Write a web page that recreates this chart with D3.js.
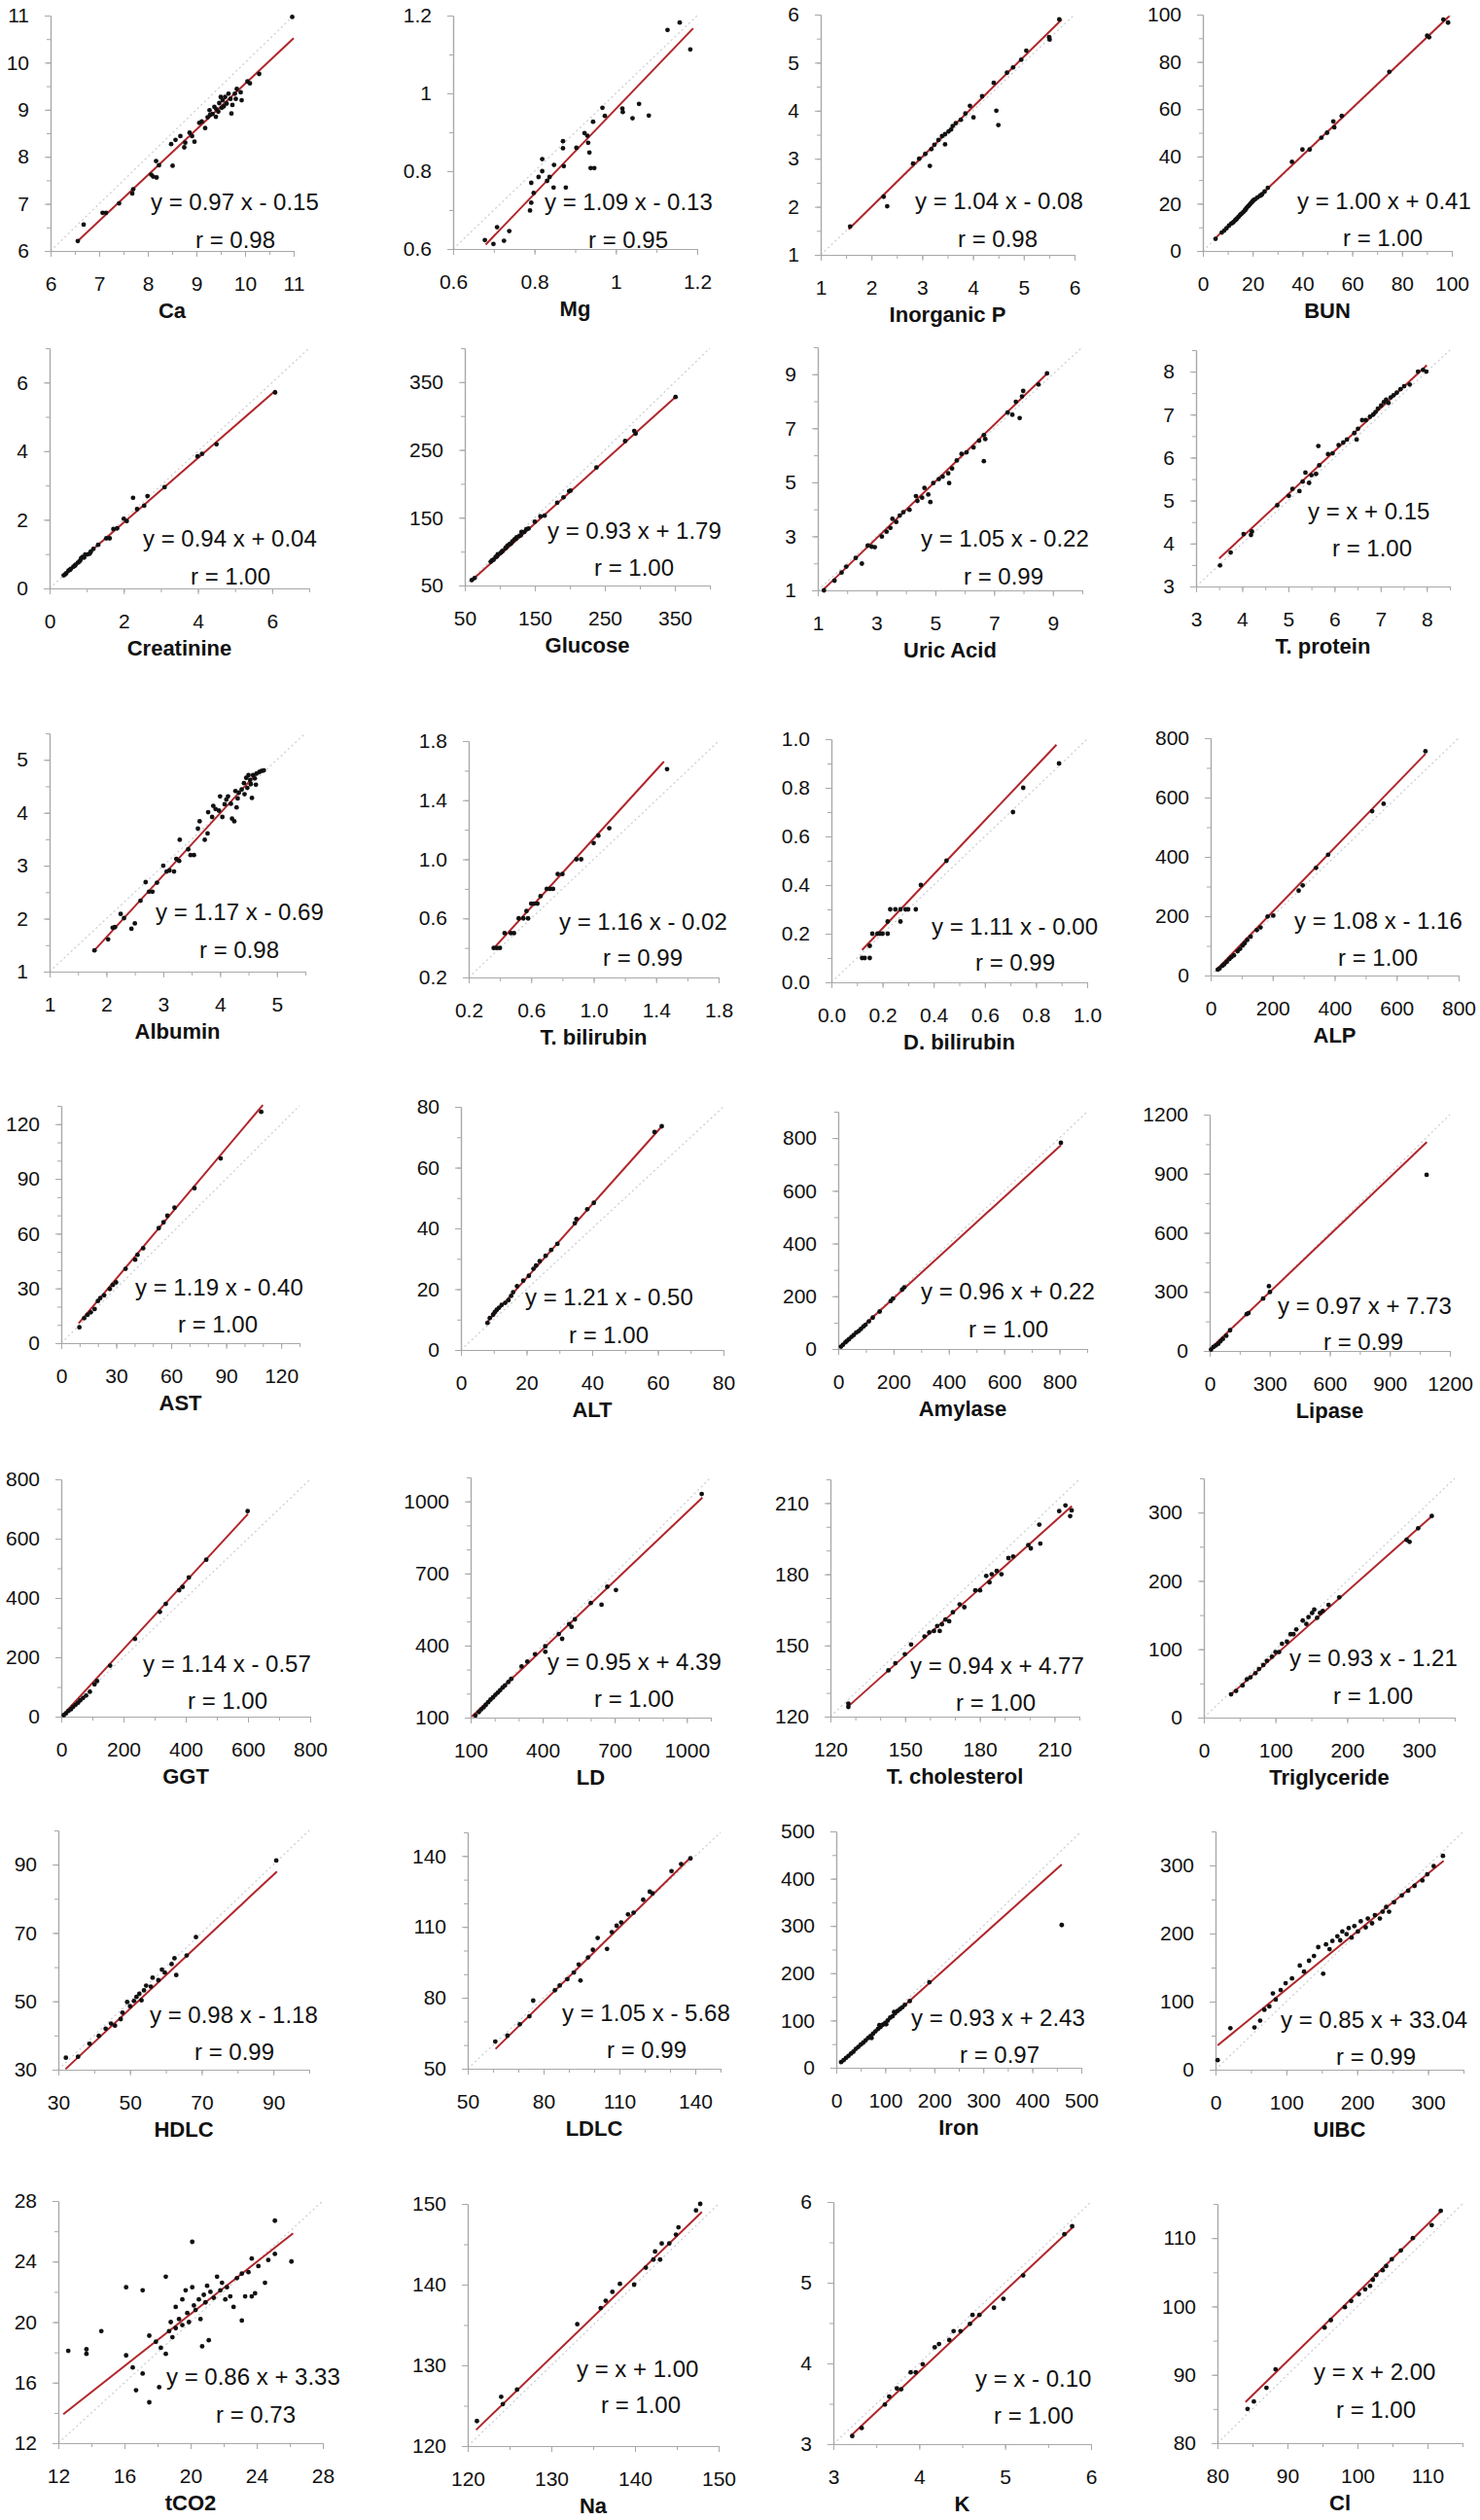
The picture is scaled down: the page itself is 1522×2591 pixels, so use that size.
<!DOCTYPE html>
<html><head><meta charset="utf-8">
<script src="https://cdn.jsdelivr.net/npm/d3@7"></script>
<style>body{margin:0;background:#fff}svg{display:block}</style>
</head><body>
<svg id="c" width="1522" height="2591"></svg>
<script>
// ---------------- DATA ----------------
const titles = ["Ca","Mg","Inorganic P","BUN","Creatinine","Glucose","Uric Acid","T. protein",
  "Albumin","T. bilirubin","D. bilirubin","ALP","AST","ALT","Amylase","Lipase",
  "GGT","LD","T. cholesterol","Triglyceride","HDLC","LDLC","Iron","UIBC","tCO2","Na","K","Cl"];

const domains = [[6,11],[0.6,1.2],[1,6],[0,100],[0,7],[50,400],[1,10],[3,8.5],
  [1,5.5],[0.2,1.8],[0,1],[0,800],[0,130],[0,80],[0,900],[0,1200],
  [0,800],[100,1100],[120,220],[0,350],[30,100],[50,150],[0,500],[0,350],[12,28],[120,150],[3,6],[80,115]];

const tickLabels = [
  ["6","7","8","9","10","11"],["0.6","0.8","1","1.2"],["1","2","3","4","5","6"],["0","20","40","60","80","100"],
  ["0","2","4","6"],["50","150","250","350"],["1","3","5","7","9"],["3","4","5","6","7","8"],
  ["1","2","3","4","5"],["0.2","0.6","1.0","1.4","1.8"],["0.0","0.2","0.4","0.6","0.8","1.0"],["0","200","400","600","800"],
  ["0","30","60","90","120"],["0","20","40","60","80"],["0","200","400","600","800"],["0","300","600","900","1200"],
  ["0","200","400","600","800"],["100","400","700","1000"],["120","150","180","210"],["0","100","200","300"],
  ["30","50","70","90"],["50","80","110","140"],["0","100","200","300","400","500"],["0","100","200","300"],
  ["12","16","20","24","28"],["120","130","140","150"],["3","4","5","6"],["80","90","100","110"]];

const minorSteps = [0.5,0.1,0.5,10,1,50,1,0.5,0.5,0.2,0.1,100,10,10,100,150,100,100,10,50,10,10,50,50,2,5,0.5,5];

const slopes = [0.97,1.09,1.04,1.00,0.94,0.93,1.05,1,1.17,1.16,1.11,1.08,1.19,1.21,0.96,0.97,1.14,0.95,0.94,0.93,0.98,1.05,0.93,0.85,0.86,1,1,1];
const intercepts = [-0.15,-0.13,-0.08,0.41,0.04,1.79,-0.22,0.15,-0.69,-0.02,0,-1.16,-0.40,-0.50,0.22,7.73,-0.57,4.39,4.77,-1.21,-1.18,-5.68,2.43,33.04,3.33,1.00,-0.10,2.00];
const fitRanges = [[6.55,11],[0.68,1.19],[1.55,5.75],[5,99],[0.35,6.1],[58,352],[1.15,8.85],[3.5,8.0],
  [1.8,4.65],[0.36,1.45],[0.12,0.88],[20,693],[9.5,110],[8,61.5],[10,805],[5,1085],
  [5,600],[105,1065],[127,217],[37,318],[32,91],[61,138],[8,460],[3,322],[12.3,26.2],[121,148],[3.2,5.8],[84,112]];
const eqLabels = ["y = 0.97 x - 0.15","y = 1.09 x - 0.13","y = 1.04 x - 0.08","y = 1.00 x + 0.41",
  "y = 0.94 x + 0.04","y = 0.93 x + 1.79","y = 1.05 x - 0.22","y = x + 0.15",
  "y = 1.17 x - 0.69","y = 1.16 x - 0.02","y = 1.11 x - 0.00","y = 1.08 x - 1.16",
  "y = 1.19 x - 0.40","y = 1.21 x - 0.50","y = 0.96 x + 0.22","y = 0.97 x + 7.73",
  "y = 1.14 x - 0.57","y = 0.95 x + 4.39","y = 0.94 x + 4.77","y = 0.93 x - 1.21",
  "y = 0.98 x - 1.18","y = 1.05 x - 5.68","y = 0.93 x + 2.43","y = 0.85 x + 33.04",
  "y = 0.86 x + 3.33","y = x + 1.00","y = x - 0.10","y = x + 2.00"];
const rValues = ["0.98","0.95","0.98","1.00","1.00","1.00","0.99","1.00","0.98","0.99","0.99","1.00",
  "1.00","1.00","1.00","0.99","1.00","1.00","1.00","1.00","0.99","0.99","0.97","0.99","0.73","1.00","1.00","1.00"];

const caPoints = [[6.56,6.21],[6.68,6.56],[7.07,6.81],[7.14,6.81],[7.41,7.01],[7.68,7.22],[7.70,7.31],[8.07,7.62],[8.11,7.58],[8.18,7.56],[8.17,7.91],[8.23,7.82],[8.51,7.81],[8.48,8.27],[8.57,8.36],[8.67,8.44],[8.75,8.20],[8.77,8.30],[8.86,8.51],[8.91,8.44],[8.96,8.32],[9.06,8.72],[9.11,8.75],[9.18,8.61],[9.23,8.84],[9.27,8.99],[9.28,8.89],[9.33,8.91],[9.37,9.06],[9.40,8.85],[9.41,9.01],[9.45,8.96],[9.47,9.14],[9.50,9.27],[9.52,9.04],[9.54,9.20],[9.56,9.07],[9.59,9.27],[9.62,9.13],[9.66,9.34],[9.70,9.23],[9.72,8.92],[9.74,9.10],[9.79,9.34],[9.81,9.23],[9.83,9.44],[9.91,9.37],[9.93,9.20],[10.05,9.60],[10.10,9.56],[10.29,9.76],[10.97,10.97]];
const mgPoints = [[0.678,0.623],[0.699,0.613],[0.708,0.656],[0.725,0.621],[0.738,0.646],[0.789,0.699],[0.792,0.719],[0.798,0.744],[0.792,0.770],[0.810,0.785],[0.819,0.800],[0.819,0.831],[0.831,0.775],[0.837,0.785],[0.847,0.758],[0.848,0.816],[0.870,0.877],[0.870,0.859],[0.872,0.813],[0.877,0.758],[0.903,0.860],[0.923,0.898],[0.930,0.891],[0.932,0.873],[0.935,0.848],[0.938,0.808],[0.947,0.808],[0.944,0.927],[0.967,0.963],[0.973,0.942],[1.016,0.961],[1.017,0.952],[1.041,0.936],[1.057,0.973],[1.081,0.943],[1.127,1.163],[1.157,1.182],[1.183,1.113]];
const ipPoints = [[1.58,1.59],[2.24,2.21],[2.31,2.01],[2.82,2.90],[2.94,3.00],[3.06,3.10],[3.15,2.85],[3.18,3.20],[3.24,3.29],[3.32,3.39],[3.39,3.47],[3.45,3.30],[3.45,3.51],[3.52,3.57],[3.57,3.61],[3.60,3.68],[3.66,3.74],[3.76,3.81],[3.85,3.94],[3.94,4.10],[4.01,3.86],[4.18,4.30],[4.41,4.58],[4.46,4.00],[4.50,3.70],[4.67,4.79],[4.79,4.90],[4.95,5.06],[5.05,5.25],[5.50,5.53],[5.51,5.48],[5.70,5.90]];
const bunPoints = [[5.1,5.1],[7.6,7.8],[8.6,8.6],[9.5,9.6],[10.5,10.7],[11.4,11.6],[12.0,11.9],[12.4,12.3],[13.0,13.0],[13.3,13.3],[13.7,13.7],[14.3,14.4],[14.9,15.1],[15.2,15.5],[15.6,15.8],[16.2,16.4],[16.8,17.1],[17.1,17.4],[17.5,18.1],[18.1,18.8],[18.5,19.2],[19.0,19.9],[19.6,20.5],[20.0,21.0],[20.4,21.5],[21.0,21.9],[21.9,22.6],[22.9,23.3],[23.4,23.6],[23.8,24.0],[24.8,25.1],[26.1,26.7],[35.8,37.7],[40.0,42.9],[42.9,42.9],[47.6,47.9],[49.9,50.0],[52.4,54.8],[52.8,52.3],[55.8,57.1],[74.9,75.8],[90.1,91.1],[90.9,90.4],[96.6,97.9],[98.5,96.6]];
const crPoints = [[0.38,0.38],[0.42,0.41],[0.45,0.44],[0.51,0.52],[0.55,0.54],[0.57,0.57],[0.64,0.63],[0.68,0.66],[0.70,0.69],[0.76,0.75],[0.80,0.78],[0.83,0.82],[0.85,0.88],[0.89,0.92],[0.93,0.90],[0.96,0.99],[1.02,0.99],[1.08,1.01],[1.11,1.07],[1.18,1.15],[1.31,1.27],[1.53,1.46],[1.62,1.46],[1.72,1.73],[1.82,1.75],[2.00,2.03],[2.08,1.96],[2.25,2.64],[2.36,2.31],[2.55,2.41],[2.64,2.69],[3.10,2.95],[3.99,3.85],[4.11,3.92],[4.50,4.20],[6.08,5.71]];
const gluPoints = [[60,58],[64,61],[87,85],[89,87],[91,88],[94,92],[96,93],[97,96],[101,98],[103,100],[104,101],[108,105],[109,106],[111,109],[114,111],[116,112],[118,115],[121,118],[123,119],[124,121],[128,123],[130,124],[131,129],[135,129],[138,133],[141,134],[150,144],[158,152],[164,153],[182,172],[191,180],[199,189],[201,190],[238,224],[279,263],[292,278],[294,274],[351,328]];
const uaPoints = [[1.21,1.00],[1.57,1.36],[1.81,1.66],[1.97,1.88],[2.29,2.20],[2.50,1.99],[2.70,2.66],[2.83,2.62],[2.94,2.60],[3.18,2.99],[3.34,3.17],[3.47,3.31],[3.54,3.65],[3.67,3.53],[3.79,3.77],[3.91,3.89],[4.12,3.98],[4.34,4.49],[4.39,4.31],[4.55,4.43],[4.63,4.79],[4.76,4.55],[4.83,4.27],[4.93,4.97],[5.12,5.12],[5.25,5.21],[5.44,5.33],[5.47,4.97],[5.57,5.51],[5.73,5.81],[5.89,6.05],[6.06,6.11],[6.30,6.29],[6.49,6.54],[6.65,6.75],[6.65,5.78],[6.70,6.60],[7.46,7.58],[7.62,7.50],[7.74,7.98],[7.87,7.38],[7.95,8.18],[7.99,8.38],[8.51,8.62],[8.80,9.03]];
const tpPoints = [[3.52,3.49],[3.75,3.79],[4.03,4.22],[4.19,4.20],[4.21,4.28],[4.76,4.89],[5.01,5.11],[5.09,5.27],[5.24,5.22],[5.31,5.44],[5.37,5.65],[5.45,5.41],[5.50,5.59],[5.60,5.62],[5.65,6.27],[5.67,5.82],[5.86,6.08],[5.96,6.10],[6.09,6.29],[6.19,6.35],[6.27,6.42],[6.43,6.57],[6.48,6.42],[6.51,6.67],[6.60,6.87],[6.68,6.87],[6.77,6.95],[6.84,7.00],[6.89,7.06],[6.94,7.14],[7.01,7.21],[7.07,7.29],[7.12,7.35],[7.17,7.27],[7.22,7.40],[7.28,7.45],[7.35,7.51],[7.43,7.59],[7.51,7.66],[7.63,7.70],[7.81,8.00],[7.92,8.04],[7.99,8.00]];
const albPoints = [[1.79,1.40],[2.03,1.61],[2.11,1.83],[2.15,1.84],[2.25,2.09],[2.31,2.01],[2.44,1.81],[2.50,1.91],[2.60,2.34],[2.69,2.69],[2.75,2.51],[2.81,2.51],[2.89,2.68],[3.00,3.00],[3.06,2.89],[3.11,2.91],[3.19,2.89],[3.23,3.13],[3.28,3.09],[3.29,3.49],[3.44,3.31],[3.48,3.20],[3.54,3.20],[3.61,3.70],[3.64,3.84],[3.73,3.49],[3.78,3.61],[3.79,4.01],[3.86,3.92],[3.88,4.13],[3.92,4.07],[3.98,4.04],[4.00,4.31],[4.04,3.92],[4.08,4.16],[4.11,4.25],[4.14,4.31],[4.19,4.17],[4.21,3.89],[4.25,3.84],[4.27,4.41],[4.29,4.10],[4.31,4.27],[4.33,4.38],[4.38,4.44],[4.42,4.56],[4.43,4.35],[4.46,4.66],[4.48,4.47],[4.50,4.71],[4.53,4.62],[4.54,4.54],[4.56,4.28],[4.58,4.71],[4.61,4.65],[4.63,4.53],[4.64,4.74],[4.69,4.77],[4.73,4.79],[4.77,4.80]];
const tbPoints = [[0.36,0.40],[0.38,0.40],[0.40,0.40],[0.43,0.50],[0.47,0.50],[0.49,0.50],[0.52,0.60],[0.55,0.60],[0.58,0.60],[0.57,0.65],[0.60,0.70],[0.62,0.70],[0.64,0.70],[0.66,0.75],[0.70,0.80],[0.72,0.80],[0.74,0.80],[0.77,0.90],[0.80,0.90],[0.89,1.00],[0.92,1.00],[1.00,1.11],[1.03,1.16],[1.10,1.21],[1.47,1.61]];
const dbPoints = [[0.12,0.10],[0.13,0.10],[0.15,0.10],[0.15,0.15],[0.16,0.20],[0.18,0.20],[0.19,0.20],[0.20,0.20],[0.22,0.20],[0.22,0.25],[0.23,0.30],[0.25,0.30],[0.27,0.30],[0.27,0.25],[0.29,0.30],[0.30,0.30],[0.33,0.30],[0.35,0.40],[0.45,0.50],[0.71,0.70],[0.75,0.80],[0.89,0.90]];
const alpPoints = [[23,20],[29,24],[38,33],[44,38],[52,46],[60,55],[67,62],[75,68],[87,82],[95,90],[103,101],[110,109],[118,120],[129,131],[149,153],[161,162],[184,199],[202,202],[284,286],[297,304],[340,363],[379,407],[521,554],[558,579],[693,756]];
const astPoints = [[9.9,8.7],[12.5,13.7],[14.3,15.5],[16.1,16.9],[18.2,18.7],[20.0,23.1],[21.3,24.7],[23.4,26.2],[26.5,29.7],[28.1,31.9],[29.9,33.3],[35.1,40.7],[40.3,45.7],[41.6,48.4],[44.7,52.0],[53.2,63.0],[55.8,66.2],[57.9,69.8],[61.8,74.2],[72.7,84.9],[87.0,101.2],[109.1,126.7]];
const altPoints = [[8.1,8.9],[8.8,10.5],[9.8,11.6],[10.3,12.4],[10.9,13.2],[11.6,13.9],[12.4,14.8],[13.5,15.5],[14.5,16.4],[15.3,17.8],[15.9,19.0],[17.1,21.0],[19.0,22.8],[20.7,24.4],[22.1,26.7],[22.9,27.8],[24.0,29.2],[25.8,31.0],[27.5,32.9],[29.4,34.9],[34.7,41.7],[35.2,43.1],[38.5,46.3],[40.5,48.4],[59.0,71.7],[61.2,73.6]];
const amyPoints = [[10,9],[17,16],[26,25],[32,31],[39,37],[48,46],[56,53],[65,62],[74,68],[82,76],[91,85],[99,92],[111,105],[125,119],[150,142],[190,182],[198,191],[231,225],[239,234],[805,782]];
const lipPoints = [[7,7],[19,20],[31,28],[43,36],[54,49],[66,61],[83,77],[102,105],[185,187],[194,192],[267,266],[296,329],[301,299],[1084,894]];
const ggtPoints = [[8,5],[15,11],[23,19],[31,25],[38,33],[46,40],[54,47],[61,55],[70,63],[80,71],[92,84],[107,109],[115,120],[157,172],[237,262],[317,353],[336,380],[379,426],[390,437],[410,469],[466,529],[599,693]];
const ldPoints = [[120,109],[134,123],[144,134],[154,143],[163,153],[173,164],[183,175],[193,184],[203,195],[213,204],[223,214],[233,225],[243,234],[257,248],[269,261],[312,313],[336,333],[368,364],[411,397],[411,374],[467,448],[481,428],[510,489],[520,478],[534,509],[600,577],[645,570],[669,645],[705,631],[1062,1031]];
const tcPoints = [[127.2,124.1],[127.2,125.5],[143.3,139.5],[146.1,142.5],[149.9,146.3],[152.4,150.4],[157.8,153.8],[159.7,155.5],[161.6,156.1],[162.9,158.2],[163.9,156.1],[164.8,158.9],[166.2,160.9],[167.7,160.2],[169.2,164.0],[171.9,167.3],[173.8,166.1],[178.2,173.2],[180.1,173.2],[182.6,179.3],[183.9,176.6],[184.8,180.0],[186.8,181.4],[188.7,180.0],[191.5,186.8],[193.4,187.5],[199.5,192.3],[200.5,190.9],[203.9,200.9],[204.3,192.9],[211.9,206.6],[214.4,209.0],[216.3,204.5],[216.9,206.9]];
const tgPoints = [[38,34],[45,39],[54,47],[60,56],[65,59],[72,65],[77,71],[83,77],[88,83],[95,89],[100,96],[105,96],[109,108],[116,111],[121,122],[125,122],[129,129],[138,142],[143,137],[146,147],[151,153],[154,158],[158,146],[162,153],[166,156],[174,165],[189,176],[283,260],[287,257],[299,277],[318,295]];
const hdlcPoints = [[32.1,33.5],[35.5,33.8],[38.7,37.6],[41.3,39.9],[43.2,42.0],[44.7,43.5],[45.8,42.9],[47.4,44.8],[47.9,46.7],[49.2,49.8],[50.0,48.6],[51.1,50.1],[51.8,51.3],[52.6,52.2],[53.2,50.3],[53.9,53.2],[54.5,54.6],[55.8,54.3],[56.3,56.9],[57.9,56.2],[58.9,59.3],[59.7,58.4],[61.6,60.9],[62.4,62.6],[62.9,57.7],[65.8,63.4],[68.4,68.8],[90.8,91.2]];
const ldlcPoints = [[60.9,61.5],[65.7,64.0],[70.6,68.8],[74.4,72.2],[75.9,78.8],[84.5,83.2],[86.4,85.2],[89.4,87.9],[92.0,90.7],[93.9,94.1],[94.6,87.3],[97.6,97.1],[99.5,100.3],[101.4,105.3],[105.1,100.7],[107.0,107.8],[108.9,110.5],[110.7,111.9],[113.4,115.3],[115.6,116.0],[119.4,121.5],[122.0,124.9],[123.1,124.2],[130.6,133.6],[134.4,136.6],[138.1,139.0]];
const ironPoints = [[10,12],[15,16],[20,21],[25,25],[30,30],[35,34],[40,40],[45,44],[50,49],[55,53],[60,58],[65,63],[70,67],[72,63],[75,72],[80,77],[85,82],[88,90],[90,86],[95,91],[100,95],[102,92],[105,100],[110,106],[115,109],[118,118],[120,115],[125,120],[130,124],[135,128],[140,133],[150,141],[190,181],[460,302]];
const uibcPoints = [[3,14],[21,61],[55,62],[63,72],[69,88],[76,93],[81,112],[85,103],[92,117],[99,127],[108,134],[119,153],[125,144],[132,160],[139,167],[145,180],[152,141],[156,184],[161,177],[165,189],[172,196],[176,190],[179,203],[185,199],[188,208],[192,194],[196,211],[201,203],[205,218],[212,209],[215,222],[221,215],[225,227],[232,222],[236,232],[241,239],[245,232],[252,246],[263,256],[272,263],[281,270],[292,278],[299,287],[308,299],[321,314]];
const tco2Points = [[12.6,18.1],[13.7,18.2],[13.7,17.9],[14.6,19.4],[16.1,17.8],[16.1,22.3],[16.5,17.0],[16.7,15.5],[17.1,22.1],[17.1,16.6],[17.5,19.1],[17.5,14.7],[17.9,18.7],[18.1,15.7],[18.2,18.3],[18.5,17.9],[18.5,23.0],[18.7,19.4],[18.8,20.0],[18.9,19.0],[19.1,21.0],[19.1,19.6],[19.3,20.2],[19.5,21.5],[19.5,19.8],[19.7,22.1],[19.8,20.6],[19.9,20.0],[20.1,22.3],[20.1,25.3],[20.2,21.1],[20.3,20.8],[20.5,21.5],[20.6,20.2],[20.7,18.4],[20.8,21.8],[20.9,21.3],[21.0,22.4],[21.1,18.8],[21.2,22.0],[21.4,21.6],[21.6,23.0],[21.8,22.1],[21.9,22.6],[22.1,21.5],[22.2,22.3],[22.4,21.7],[22.6,21.0],[22.8,22.9],[23.1,20.1],[23.1,23.2],[23.3,21.7],[23.5,23.3],[23.7,21.7],[23.7,24.2],[23.9,21.9],[24.1,23.7],[24.5,22.6],[24.7,24.1],[25.1,24.5],[25.1,26.7],[26.1,24.0]];
const naPoints = [[121.1,123.1],[124.0,126.1],[124.2,125.2],[125.9,127.0],[133.1,135.1],[135.9,137.1],[136.5,138.0],[137.3,139.1],[138.2,140.1],[139.9,140.0],[141.3,142.1],[142.2,143.1],[142.4,144.1],[143.0,143.1],[143.2,145.1],[144.1,145.1],[144.9,146.2],[145.2,147.1],[147.3,149.2],[147.8,150.0]];
const kPoints = [[3.22,3.10],[3.33,3.20],[3.60,3.49],[3.65,3.59],[3.74,3.69],[3.79,3.68],[3.90,3.89],[3.96,3.89],[4.04,3.99],[4.18,4.20],[4.23,4.24],[4.35,4.29],[4.40,4.40],[4.48,4.40],[4.59,4.49],[4.62,4.60],[4.70,4.60],[4.87,4.69],[4.98,4.80],[5.21,5.09],[5.69,5.60],[5.78,5.70]];
const clPoints = [[84.3,85.0],[85.2,86.1],[87.0,88.1],[88.3,90.8],[95.3,96.9],[96.2,98.0],[98.2,99.9],[99.1,100.8],[100.2,101.8],[101.1,102.5],[101.8,103.0],[102.2,103.9],[102.7,104.6],[103.6,105.3],[104.1,105.9],[104.9,106.9],[106.2,108.2],[107.9,110.0],[110.6,111.9],[111.9,114.0]];

const pointSets = [caPoints,mgPoints,ipPoints,bunPoints,crPoints,gluPoints,uaPoints,tpPoints,
  albPoints,tbPoints,dbPoints,alpPoints,astPoints,altPoints,amyPoints,lipPoints,
  ggtPoints,ldPoints,tcPoints,tgPoints,hdlcPoints,ldlcPoints,ironPoints,uibcPoints,
  tco2Points,naPoints,kPoints,clPoints];

// ---------------- LAYOUT (pixels) ----------------
// plot box per panel: [left, top, right, bottom]
const plotBoxes = [[52,16,302,258],[466,16,717,256],[844,15,1105,262],[1237,15,1493,258],
  [51,358,318,605],[478,358,730,602],[841,357,1113,607],[1230,360,1491,603],
  [51,754,314,999],[482,762,739,1005],[855,760,1118,1010],[1245,759,1500,1003],
  [63,1137,308,1381],[474,1138,744,1388],[862,1143,1118,1387],[1244,1146,1491,1389],
  [63,1521,319,1765],[484,1519,731,1766],[854,1521,1110,1765],[1238,1520,1496,1766],
  [60,1882,318,2128],[481,1884,741,2127],[860,1883,1112,2126],[1250,1883,1505,2128],
  [60,2263,332,2512],[481,2266,739,2515],[857,2264,1122,2513],[1252,2266,1504,2512]];
// equation / r text offsets from (left, bottom)
const eqOffsets = [[103,-51],[94,-49],[97,-56],[97,-52],[96,-52],[85,-57],[106,-54],[115,-78],
  [109,-62],[93,-58],[103,-58],[86,-57],[76,-58],[66,-55],[85,-60],[70,-47],
  [84,-55],[79,-58],[82,-53],[88,-62],[94,-57],[97,-58],[77,-52],[67,-52],
  [111,-69],[112,-80],[146,-68],[99,-74]];
const rOffsets = [[149,-12],[139,-10],[141,-17],[144,-14],[145,-13],[133,-19],[150,-15],[140,-40],
  [154,-23],[138,-21],[148,-21],[131,-19],[120,-20],[111,-16],[134,-21],[117,-10],
  [130,-17],[127,-20],[129,-15],[133,-23],[140,-19],[143,-20],[127,-14],[124,-14],
  [162,-30],[137,-43],[165,-30],[122,-35]];

const FONT = "'Liberation Sans', Arial, sans-serif";
const AXIS_COLOR = "#a8a8a8";
const FIT_COLOR = "#b0262b";

// ---------------- DRAW ----------------
const svg = d3.select("#c");
svg.append("rect").attr("width",1522).attr("height",2591).attr("fill","#fff");

titles.forEach((title, i) => {
  const [L, T, R, B] = plotBoxes[i];
  const [d0, d1] = domains[i];
  const x = d3.scaleLinear().domain([d0, d1]).range([L, R]);
  const y = d3.scaleLinear().domain([d0, d1]).range([B, T]);
  const g = svg.append("g").attr("class", "panel");

  const step = minorSteps[i];
  const minorVals = d3.range(0, Math.round((d1 - d0) / step) + 1).map(k => +(d0 + k * step).toFixed(6));
  const majorVals = tickLabels[i].map(Number);

  // identity line (dotted)
  g.append("line")
    .attr("x1", x(d0)).attr("y1", y(d0)).attr("x2", x(d1)).attr("y2", y(d1))
    .attr("stroke", "#c8ccd0").attr("stroke-width", 1.2).attr("stroke-dasharray", "2,3");

  // minor ticks
  const xMinor = d3.axisBottom(x).tickValues(minorVals).tickSize(4).tickSizeOuter(0).tickFormat("");
  const yMinor = d3.axisLeft(y).tickValues(minorVals).tickSize(4).tickSizeOuter(0).tickFormat("");
  // major axes
  const xAxis = d3.axisBottom(x).tickValues(majorVals).tickSize(6).tickSizeOuter(0)
    .tickPadding(20).tickFormat((d, k) => tickLabels[i][k]);
  const yAxis = d3.axisLeft(y).tickValues(majorVals).tickSize(6).tickSizeOuter(0)
    .tickPadding(16).tickFormat((d, k) => tickLabels[i][k]);

  [[xMinor, `translate(0,${B})`], [yMinor, `translate(${L},0)`],
   [xAxis, `translate(0,${B})`], [yAxis, `translate(${L},0)`]].forEach(([ax, tr]) => {
    const a = g.append("g").attr("transform", tr).call(ax);
    a.select(".domain").attr("stroke", AXIS_COLOR).attr("stroke-width", 1.2);
    a.selectAll(".tick line").attr("stroke", AXIS_COLOR).attr("stroke-width", 1);
    a.selectAll(".tick text").attr("fill", "#111").style("font-family", FONT).style("font-size", "21px");
  });

  // regression line
  const [f0, f1] = fitRanges[i];
  const fitLine = [f0, f1].map(v => [v, slopes[i] * v + intercepts[i]]);
  g.append("path")
    .attr("d", d3.line().x(d => x(d[0])).y(d => y(d[1]))(fitLine))
    .attr("stroke", FIT_COLOR).attr("stroke-width", 2).attr("fill", "none");

  // points
  g.selectAll("circle.pt").data(pointSets[i]).enter().append("circle")
    .attr("class", "pt")
    .attr("cx", d => x(d[0])).attr("cy", d => y(d[1])).attr("r", 2.4)
    .attr("fill", "#111");

  // equation and r
  g.append("text")
    .attr("x", L + eqOffsets[i][0]).attr("y", B + eqOffsets[i][1])
    .attr("dominant-baseline", "central")
    .style("font-family", FONT).style("font-size", "24px").attr("fill", "#111")
    .text(eqLabels[i]);
  g.append("text")
    .attr("x", L + rOffsets[i][0]).attr("y", B + rOffsets[i][1])
    .attr("dominant-baseline", "central")
    .style("font-family", FONT).style("font-size", "24px").attr("fill", "#111")
    .text("r = " + rValues[i]);

  // axis title
  g.append("text")
    .attr("x", (L + R) / 2).attr("y", B + 69)
    .attr("text-anchor", "middle")
    .style("font-family", FONT).style("font-size", "22px").style("font-weight", "bold").attr("fill", "#111")
    .text(title);
});
</script>
</body></html>
